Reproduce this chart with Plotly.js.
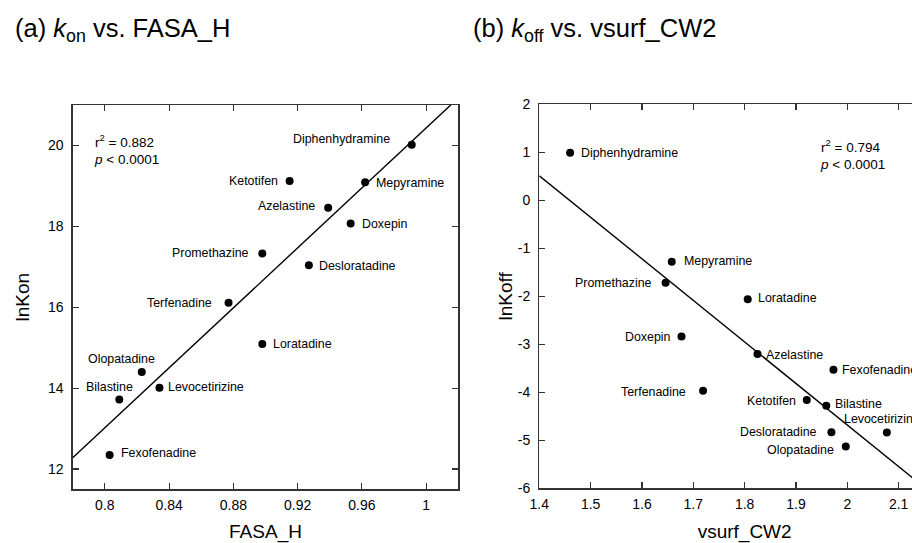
<!DOCTYPE html>
<html>
<head>
<meta charset="utf-8">
<script src="https://cdn.plot.ly/plotly-3.0.1.min.js"></script>
<style>
html, body { margin: 0; padding: 0; overflow: hidden; background: #fff; }
#chart { width: 970px; height: 543px; }
</style>
</head>
<body>
<div id="chart"></div>
<script>
// ---- Data: panel (a) kon vs. FASA_H ----
const namesA = ["Diphenhydramine", "Ketotifen", "Mepyramine", "Azelastine", "Doxepin", "Promethazine",
  "Desloratadine", "Terfenadine", "Loratadine", "Olopatadine", "Levocetirizine", "Bilastine", "Fexofenadine"];
const fasaH = [0.991, 0.915, 0.962, 0.939, 0.953, 0.898, 0.927, 0.877, 0.898, 0.823, 0.834, 0.809, 0.803];
const lnKon = [20.02, 19.12, 19.09, 18.46, 18.07, 17.33, 17.04, 16.11, 15.09, 14.40, 14.01, 13.72, 12.35];

// ---- Data: panel (b) koff vs. vsurf_CW2 ----
const namesB = ["Diphenhydramine", "Mepyramine", "Promethazine", "Loratadine", "Doxepin", "Azelastine",
  "Fexofenadine", "Terfenadine", "Ketotifen", "Bilastine", "Levocetirizine", "Desloratadine", "Olopatadine"];
const vsurfCW2 = [1.460, 1.658, 1.646, 1.806, 1.677, 1.825, 1.973, 1.719, 1.921, 1.959, 2.077, 1.969, 1.997];
const lnKoff = [0.99, -1.28, -1.72, -2.06, -2.84, -3.20, -3.53, -3.97, -4.16, -4.28, -4.84, -4.83, -5.13];

// ---- Stats text & ticks ----
const r2Text = ["0.882", "0.794"];
const pText = ["0.0001", "0.0001"];
const xTicksA = [0.8, 0.84, 0.88, 0.92, 0.96, 1];
const xTickTextA = ["0.8", "0.84", "0.88", "0.92", "0.96", "1"];
const yTicksA = [12, 14, 16, 18, 20];
const yTickTextA = ["12", "14", "16", "18", "20"];
const xTicksB = [1.4, 1.5, 1.6, 1.7, 1.8, 1.9, 2, 2.1];
const xTickTextB = ["1.4", "1.5", "1.6", "1.7", "1.8", "1.9", "2", "2.1"];
const yTicksB = [-6, -5, -4, -3, -2, -1, 0, 1, 2];
const yTickTextB = ["-6", "-5", "-4", "-3", "-2", "-1", "0", "1", "2"];

// ---- Label placement (style) ----
const placeA = [["right",-21,6],["right",-11,0],["left",10,-1],["right",-12,2],["left",10,-0.7],["right",-12,0],
  ["left",9.5,-0.7],["right",-16,-0.6],["left",10,0],["center",-20.5,12.7],["left",8,1],["center",-10,12.6],["left",10,2.3]];
const placeB = [["left",10,0],["left",11.5,0.7],["right",-13,0],["left",9.5,0.7],["right",-10,-0.6],["left",8,-1],
  ["left",8,0],["right",-16,-1.3],["right",-10,-0.7],["left",7.5,2],["center",-5,14],["right",-13,0.6],["right",-11,-3.3]];

function fit(xs, ys) {
  const n = xs.length;
  const mx = xs.reduce((a, b) => a + b, 0) / n;
  const my = ys.reduce((a, b) => a + b, 0) / n;
  let sxy = 0, sxx = 0;
  for (let i = 0; i < n; i++) { sxy += (xs[i] - mx) * (ys[i] - my); sxx += (xs[i] - mx) ** 2; }
  const b = sxy / sxx;
  return { b: b, a: my - b * mx };
}

const rangeXA = [0.78, 1.02], rangeYA = [11.5, 21];
const rangeXB = [1.4, 2.2], rangeYB = [-6, 2];
const fA = fit(fasaH, lnKon), fB = fit(vsurfCW2, lnKoff);
const lineXA = rangeXA.slice(), lineYA = lineXA.map(x => fA.a + fA.b * x);
const lineXB = rangeXB.slice(), lineYB = lineXB.map(x => fB.a + fB.b * x);

const FONT = "Liberation Sans, Arial, Helvetica, sans-serif";
const traces = [
  { x: lineXA, y: lineYA, xaxis: "x", yaxis: "y", mode: "lines", line: { color: "#000", width: 1.4 }, hoverinfo: "skip" },
  { x: fasaH, y: lnKon, xaxis: "x", yaxis: "y", mode: "markers", marker: { color: "#000", size: 8 }, text: namesA },
  { x: lineXB, y: lineYB, xaxis: "x2", yaxis: "y2", mode: "lines", line: { color: "#000", width: 1.4 }, hoverinfo: "skip" },
  { x: vsurfCW2, y: lnKoff, xaxis: "x2", yaxis: "y2", mode: "markers", marker: { color: "#000", size: 8 }, text: namesB }
];

const W = 970, H = 543;
function axisBase() {
  return {
    showgrid: false, zeroline: false, showline: true, linecolor: "#333", linewidth: 1.3,
    mirror: "ticks", ticks: "inside", ticklen: 6, tickwidth: 1.2, tickcolor: "#333",
    tickfont: { family: FONT, size: 14, color: "#000" }, tickmode: "array", fixedrange: true
  };
}
const layout = {
  width: W, height: H, showlegend: false,
  margin: { l: 0, r: 0, t: 0, b: 0 },
  paper_bgcolor: "#fff", plot_bgcolor: "#fff",
  font: { family: FONT, color: "#000" },
  xaxis: Object.assign(axisBase(), { domain: [72.7 / W, 458.3 / W], range: rangeXA, tickvals: xTicksA, ticktext: xTickTextA,
    anchor: "y", ticklabelstandoff: 3, title: { text: "FASA_H", font: { family: FONT, size: 19 }, standoff: 15 } }),
  yaxis: Object.assign(axisBase(), { domain: [(H - 489.3) / H, (H - 105) / H], range: rangeYA, tickvals: yTicksA, ticktext: yTickTextA,
    anchor: "x", ticklabelstandoff: 5, title: { text: "lnKon", font: { family: FONT, size: 19 }, standoff: 13 } }),
  xaxis2: Object.assign(axisBase(), { domain: [539.3 / W, 950 / W], range: rangeXB, tickvals: xTicksB, ticktext: xTickTextB,
    anchor: "y2", ticklabelstandoff: 3, title: { text: "vsurf_CW2", font: { family: FONT, size: 19 }, standoff: 15 } }),
  yaxis2: Object.assign(axisBase(), { domain: [(H - 488.3) / H, (H - 104.3) / H], range: rangeYB, tickvals: yTicksB, ticktext: yTickTextB,
    anchor: "x2", ticklabelstandoff: 5, title: { text: "lnKoff", font: { family: FONT, size: 19 }, standoff: 0 } }),
  annotations: []
};

function addLabels(names, xs, ys, place, xr, yr) {
  names.forEach((n, i) => {
    const p = place[i];
    layout.annotations.push({ x: xs[i], y: ys[i], xref: xr, yref: yr, text: n, showarrow: false,
      xanchor: p[0], yanchor: "middle", xshift: p[1], yshift: p[2], borderpad: 0,
      font: { family: FONT, size: 12.4, color: "#000" } });
  });
}
addLabels(namesA, fasaH, lnKon, placeA, "x", "y");
addLabels(namesB, vsurfCW2, lnKoff, placeB, "x2", "y2");

function addStats(idx, xr, yr, x, y) {
  layout.annotations.push({ x: x, y: y, xref: xr, yref: yr, xanchor: "left", yanchor: "middle", showarrow: false, align: "left",
    text: "r<sup>2</sup> = " + r2Text[idx] + "<br><i>p</i> &lt; " + pText[idx],
    font: { family: FONT, size: 13.5, color: "#000" }, borderpad: 0 });
}
addStats(0, "x domain", "y domain", 0.052, 0.883);
addStats(1, "x2 domain", "y2 domain", 0.68, 0.87);

// Panel titles
layout.annotations.push({ x: 12.7 / W, y: (H - 30) / H, xref: "paper", yref: "paper", xanchor: "left", yanchor: "middle",
  showarrow: false, text: "(a) <i>k</i><sub>on</sub> vs. FASA_H", font: { family: FONT, size: 25.5, color: "#000" } });
layout.annotations.push({ x: 471 / W, y: (H - 30) / H, xref: "paper", yref: "paper", xanchor: "left", yanchor: "middle",
  showarrow: false, text: "(b) <i>k</i><sub>off</sub> vs. vsurf_CW2", font: { family: FONT, size: 25.5, color: "#000" } });

Plotly.newPlot("chart", traces, layout, { displayModeBar: false, staticPlot: true });
</script>
</body>
</html>
